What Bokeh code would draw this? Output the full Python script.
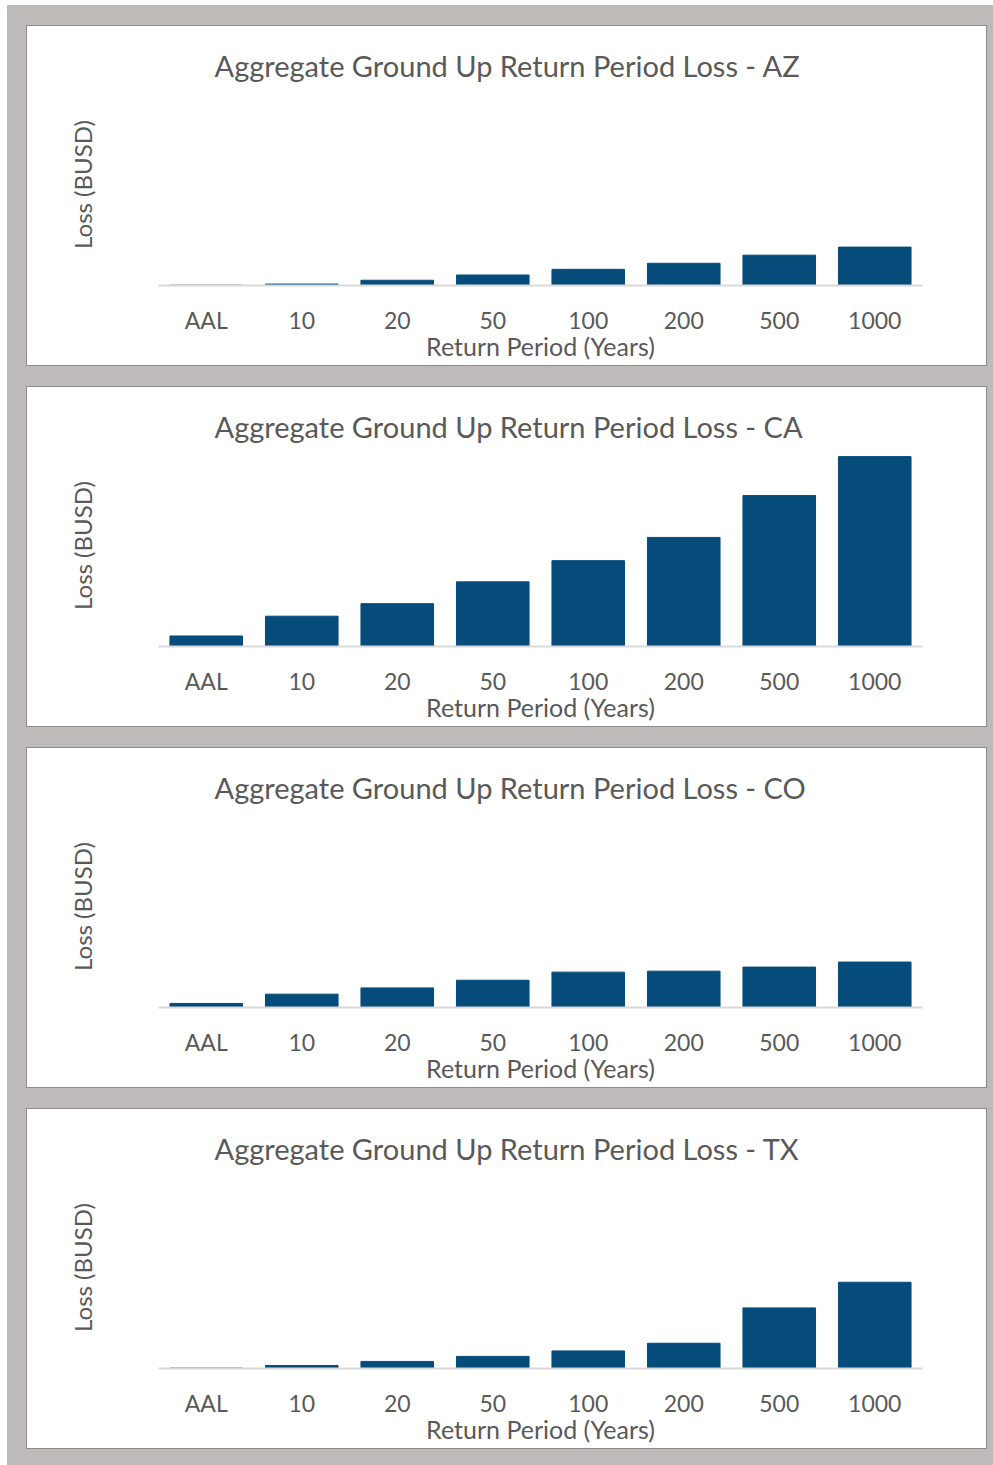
from bokeh.plotting import figure
from bokeh.layouts import column
from bokeh.models import Range1d, FixedTicker, Title
from bokeh.embed import file_html
from bokeh.resources import INLINE

categories = ["AAL", "10", "20", "50", "100", "200", "500", "1000"]
states = ["AZ", "CA", "CO", "TX"]
loss_az = [0.15, 0.7, 2.6, 5.2, 8.0, 11.0, 15.0, 19.0]
loss_ca = [5.2, 15.0, 21.2, 32.0, 42.5, 54.0, 74.7, 94.0]
loss_co = [2.0, 6.6, 9.7, 13.5, 17.5, 18.0, 20.0, 22.5]
loss_tx = [0.2, 1.5, 3.5, 6.0, 8.7, 12.5, 30.0, 42.7]
series = [loss_az, loss_ca, loss_co, loss_tx]

BAR = "#054C7A"
TXT = "#595959"
BG = "#BEBAB9"
FONT = "Lato"

figs = []
for i, (st, vals) in enumerate(zip(states, series)):
    p = figure(x_range=categories, y_range=Range1d(0, 100), width=961, height=341,
               output_backend="svg", toolbar_location=None,
               min_border_left=131, min_border_right=66, min_border_top=57,
               min_border_bottom=82, outline_line_color=None,
               background_fill_color=None, border_fill_color=None)
    p.x_range.range_padding = 0
    p.title = Title(text=f"Aggregate Ground Up Return Period Loss - {st}",
                    align="left", offset=56, standoff=1,
                    text_font=FONT, text_font_size="29px", text_font_style="normal",
                    text_color=TXT)
    p.vbar(x=categories, top=vals, width=0.76, color=BAR)
    p.xgrid.visible = False
    p.ygrid.visible = False
    xa = p.xaxis[0]
    xa.axis_line_color = "#D9D9D9"
    xa.axis_line_width = 2
    xa.major_tick_line_color = None
    xa.minor_tick_line_color = None
    xa.major_tick_out = 0
    xa.major_tick_in = 0
    xa.minor_tick_out = 0
    xa.major_label_text_font = FONT
    xa.major_label_text_font_size = "23px"
    xa.major_label_text_color = TXT
    xa.major_label_standoff = 20
    xa.axis_label = "Return Period (Years)"
    xa.axis_label_text_font = FONT
    xa.axis_label_text_font_size = "25px"
    xa.axis_label_text_font_style = "normal"
    xa.axis_label_text_color = TXT
    xa.axis_label_standoff = -6
    ya = p.yaxis[0]
    ya.ticker = FixedTicker(ticks=[])
    ya.axis_line_color = None
    ya.major_tick_line_color = None
    ya.minor_tick_line_color = None
    ya.major_tick_out = 0
    ya.minor_tick_out = 0
    ya.axis_label = "Loss (BUSD)"
    ya.axis_label_text_font = FONT
    ya.axis_label_text_font_size = "24px"
    ya.axis_label_text_font_style = "normal"
    ya.axis_label_text_color = TXT
    ya.axis_label_standoff = 62
    top = 20 if i == 0 else 0
    bottom = 16 if i == len(states) - 1 else 0
    p.margin = (top, 6, bottom, 19)
    p.styles = {"border": "1px solid #8C8C8C", "background-color": "white"}
    figs.append(p)

layout = column(*figs, spacing=20, margin=(5, 0, 0, 7),
                styles={"background-color": BG})
open("out.html", "w").write(file_html(layout, INLINE))
